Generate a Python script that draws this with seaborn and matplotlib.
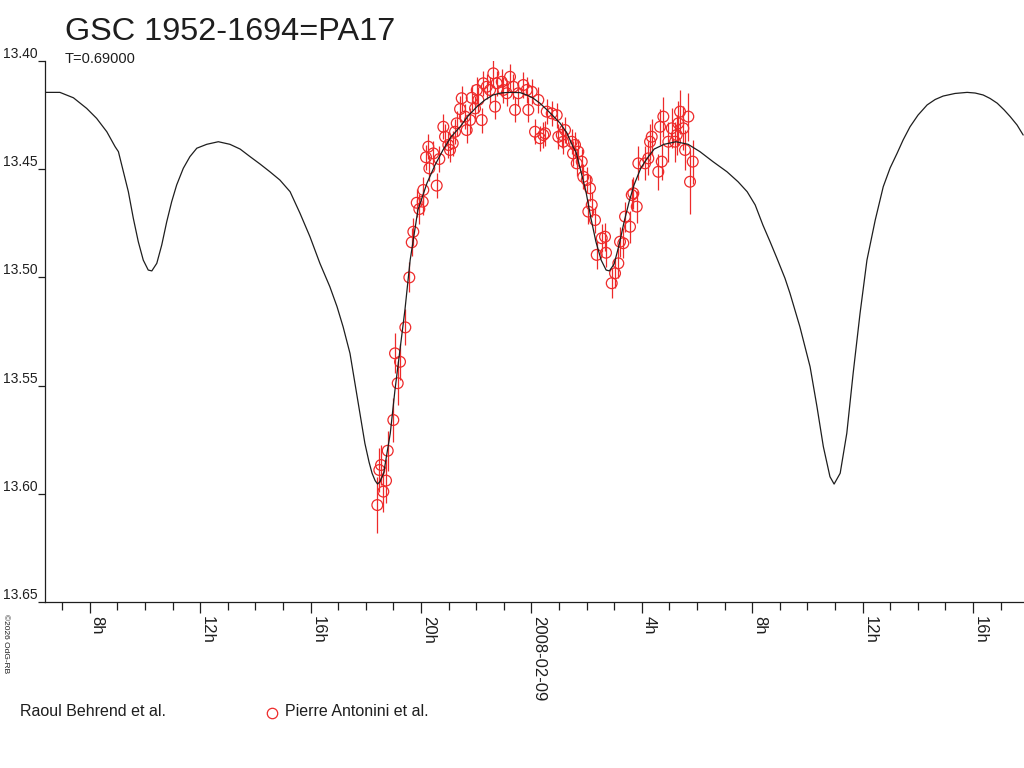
import numpy as np
import pandas as pd
import seaborn as sns
import matplotlib.pyplot as plt
from matplotlib.lines import Line2D
from matplotlib.ticker import MultipleLocator

# hours relative to 2008-02-09 00:00 UT
curve_h = [-17.62, -17.08, -16.59, -16.11, -15.75, -15.38, -15.08, -14.96, -14.78, -14.60,
           -14.42, -14.24, -14.06, -13.88, -13.75, -13.57, -13.39, -13.21, -13.03, -12.85,
           -12.61, -12.37, -12.12, -11.76, -11.34, -10.92, -10.55, -10.19, -9.83, -9.47,
           -9.11, -8.74, -8.38, -8.02, -7.66, -7.30, -7.04, -6.82, -6.57, -6.39,
           -6.21, -6.03, -5.88, -5.77, -5.66, -5.57, -5.48, -5.35, -5.24, -5.11,
           -4.94, -4.76, -4.58, -4.39, -4.11, -3.78, -3.49, -3.20, -2.91, -2.58,
           -2.29, -1.97, -1.68, -1.39, -1.06, -0.77, -0.41, -0.16, 0.06, 0.32,
           0.57, 0.79, 1.04, 1.29, 1.51, 1.62, 1.80, 1.98, 2.16, 2.34,
           2.53, 2.71, 2.83, 3.00, 3.18, 3.36, 3.54, 3.72, 3.97, 4.23,
           4.45, 4.81, 5.24, 5.68, 6.11, 6.58, 7.09, 7.49, 7.82, 8.11,
           8.39, 8.65, 8.90, 9.19, 9.37, 9.73, 10.10, 10.35, 10.58, 10.82,
           10.97, 11.19, 11.43, 11.66, 11.91, 12.16, 12.46, 12.75, 13.00, 13.25,
           13.47, 13.72, 14.01, 14.34, 14.63, 14.92, 15.35, 15.79, 16.08, 16.37,
           16.62, 16.88, 17.13, 17.35, 17.60, 17.82]
curve_mag = [13.4145, 13.4145, 13.4170, 13.4219, 13.4265, 13.4327, 13.4396, 13.4419, 13.4512, 13.4604,
             13.4727, 13.4835, 13.4920, 13.4966, 13.4970, 13.4935, 13.4850, 13.4743, 13.4650, 13.4573,
             13.4496, 13.4442, 13.4403, 13.4385, 13.4373, 13.4385, 13.4407, 13.4442, 13.4476, 13.4512,
             13.4550, 13.4604, 13.4704, 13.4812, 13.4935, 13.5043, 13.5135, 13.5228, 13.5351, 13.5489,
             13.5628, 13.5767, 13.5853, 13.5905, 13.5939, 13.5955, 13.5943, 13.5905, 13.5821, 13.5720,
             13.5520, 13.5335, 13.5151, 13.4920, 13.4689, 13.4564, 13.4481, 13.4411, 13.4351, 13.4304,
             13.4254, 13.4211, 13.4180, 13.4157, 13.4147, 13.4145, 13.4146, 13.4157, 13.4171, 13.4196,
             13.4226, 13.4254, 13.4287, 13.4333, 13.4396, 13.4421, 13.4512, 13.4604, 13.4727, 13.4835,
             13.4920, 13.4966, 13.4970, 13.4938, 13.4850, 13.4744, 13.4652, 13.4573, 13.4494, 13.4444,
             13.4407, 13.4385, 13.4373, 13.4385, 13.4419, 13.4465, 13.4512, 13.4558, 13.4604, 13.4665,
             13.4758, 13.4835, 13.4912, 13.5004, 13.5073, 13.5228, 13.5413, 13.5598, 13.5782, 13.5921,
             13.5955, 13.5905, 13.5720, 13.5443, 13.5166, 13.4920, 13.4735, 13.4581, 13.4494, 13.4427,
             13.4365, 13.4304, 13.4250, 13.4203, 13.4178, 13.4162, 13.4150, 13.4145, 13.4148, 13.4157,
             13.4173, 13.4195, 13.4226, 13.4257, 13.4296, 13.4342]

obs_h = [-5.580, -5.507, -5.446, -5.362, -5.264, -5.203, -5.000, -4.841, -4.938, -4.757,
         -4.565, -4.420, -4.333, -4.275, -4.152, -4.058, -3.935, -3.913, -3.815, -3.732,
         -3.696, -3.551, -3.428, -3.333, -3.188, -3.127, -3.007, -2.946, -2.848, -2.764,
         -2.703, -2.583, -2.522, -2.402, -2.341, -2.221, -2.159, -2.040, -1.978, -1.920,
         -1.797, -1.739, -1.616, -1.496, -1.377, -1.315, -1.254, -1.072, -1.014, -0.891,
         -0.772, -0.652, -0.591, -0.471, -0.290, -0.167, -0.109, 0.014, 0.134, 0.254,
         0.315, 0.435, 0.496, 0.558, 0.739, 0.920, 0.978, 1.101, 1.159, 1.221,
         1.464, 1.510, 1.583, 1.645, 1.703, 1.826, 1.884, 2.007, 2.065, 2.127,
         2.188, 2.308, 2.370, 2.551, 2.670, 2.707, 2.913, 3.033, 3.152, 3.214,
         3.333, 3.395, 3.576, 3.638, 3.696, 3.819, 3.877, 4.120, 4.239, 4.301,
         4.362, 4.601, 4.663, 4.725, 4.783, 4.964, 5.087, 5.207, 5.268, 5.326,
         5.388, 5.507, 5.569, 5.688, 5.750, 5.848]
obs_mag = [13.6052, 13.5890, 13.5867, 13.5990, 13.5939, 13.5801, 13.5659, 13.5489, 13.5351, 13.5390,
           13.5231, 13.5000, 13.4838, 13.4789, 13.4655, 13.4684, 13.4650, 13.4596, 13.4445, 13.4396,
           13.4496, 13.4427, 13.4576, 13.4453, 13.4304, 13.4350, 13.4388, 13.4411, 13.4380, 13.4327,
           13.4288, 13.4222, 13.4172, 13.4257, 13.4319, 13.4273, 13.4170, 13.4219, 13.4134, 13.4180,
           13.4273, 13.4103, 13.4119, 13.4134, 13.4057, 13.4211, 13.4103, 13.4096, 13.4134, 13.4149,
           13.4073, 13.4119, 13.4226, 13.4149, 13.4111, 13.4134, 13.4226, 13.4142, 13.4327, 13.4180,
           13.4357, 13.4342, 13.4334, 13.4234, 13.4242, 13.4250, 13.4350, 13.4342, 13.4373, 13.4319,
           13.4373, 13.4427, 13.4388, 13.4473, 13.4419, 13.4465, 13.4535, 13.4550, 13.4696, 13.4588,
           13.4665, 13.4735, 13.4896, 13.4819, 13.4812, 13.4886, 13.5027, 13.4981, 13.4935, 13.4835,
           13.4842, 13.4719, 13.4766, 13.4619, 13.4611, 13.4673, 13.4473, 13.4473, 13.4450, 13.4373,
           13.4350, 13.4512, 13.4304, 13.4465, 13.4257, 13.4373, 13.4311, 13.4373, 13.4342, 13.4288,
           13.4234, 13.4311, 13.4411, 13.4257, 13.4558, 13.4465]
obs_err = [0.0129, 0.0102, 0.0092, 0.0092, 0.0102, 0.0092, 0.0102, 0.0102, 0.0092, 0.0083,
           0.0083, 0.0069, 0.0065, 0.0065, 0.0065, 0.0069, 0.0060, 0.0060, 0.0058, 0.0058,
           0.0060, 0.0058, 0.0058, 0.0058, 0.0058, 0.0058, 0.0058, 0.0058, 0.0058, 0.0058,
           0.0058, 0.0058, 0.0058, 0.0058, 0.0058, 0.0058, 0.0058, 0.0058, 0.0058, 0.0058,
           0.0058, 0.0058, 0.0058, 0.0058, 0.0062, 0.0058, 0.0058, 0.0058, 0.0058, 0.0058,
           0.0058, 0.0058, 0.0058, 0.0058, 0.0058, 0.0058, 0.0058, 0.0058, 0.0058, 0.0058,
           0.0058, 0.0058, 0.0058, 0.0058, 0.0058, 0.0058, 0.0058, 0.0058, 0.0058, 0.0058,
           0.0058, 0.0058, 0.0058, 0.0058, 0.0058, 0.0058, 0.0058, 0.0058, 0.0058, 0.0058,
           0.0058, 0.0060, 0.0065, 0.0065, 0.0065, 0.0065, 0.0069, 0.0069, 0.0069, 0.0069,
           0.0069, 0.0069, 0.0074, 0.0074, 0.0074, 0.0074, 0.0079, 0.0079, 0.0079, 0.0083,
           0.0083, 0.0083, 0.0083, 0.0083, 0.0092, 0.0092, 0.0092, 0.0092, 0.0092, 0.0102,
           0.0102, 0.0102, 0.0092, 0.0111, 0.0148, 0.0102]

tick_hours = [-16, -12, -8, -4, 0, 4, 8, 12, 16]
tick_labels = ['8h', '12h', '16h', '20h', '2008-02-09', '4h', '8h', '12h', '16h']
y_ticks = [13.40, 13.45, 13.50, 13.55, 13.60, 13.65]

RED = '#ee2a2a'
INK = '#1e1e1e'

sns.set_style('white')
plt.rcParams['font.family'] = ['Liberation Sans', 'DejaVu Sans']

fig = plt.figure(figsize=(10.24, 7.68), dpi=100)
ax = fig.add_axes([45 / 1024, 1 - 602 / 768, 979 / 1024, 541 / 768])

model = pd.DataFrame({'h': curve_h, 'mag': curve_mag})
obs = pd.DataFrame({'h': obs_h, 'mag': obs_mag, 'err': obs_err})

ax.errorbar(obs['h'], obs['mag'], yerr=obs['err'], fmt='none',
            ecolor=RED, elinewidth=0.9, capsize=0, zorder=2)
sns.scatterplot(data=obs, x='h', y='mag', ax=ax, marker='o', s=60,
                facecolor='none', edgecolor=RED, linewidth=0.9, zorder=3)
sns.lineplot(data=model, x='h', y='mag', ax=ax, sort=False, estimator=None,
             color=INK, linewidth=0.9, zorder=4)

ax.set_xlim(-17.62, 17.85)
ax.set_ylim(13.65, 13.40)
ax.set_xlabel('')
ax.set_ylabel('')

for side in ['top', 'right']:
    ax.spines[side].set_visible(False)
for side in ['left', 'bottom']:
    ax.spines[side].set_color(INK)
    ax.spines[side].set_linewidth(0.9)

ax.set_xticks(tick_hours, tick_labels, rotation=-90, rotation_mode='anchor',
              ha='left', va='bottom', fontsize=12, color=INK)
ax.xaxis.set_minor_locator(MultipleLocator(1))
ax.tick_params(axis='x', which='major', direction='out', length=8, width=0.9,
               color=INK, pad=2, bottom=True)
ax.tick_params(axis='x', which='minor', direction='out', length=6, width=0.9,
               color=INK, bottom=True)

ax.set_yticks(y_ticks, [f'{v:.2f}' for v in y_ticks], fontsize=10, color=INK)
ax.tick_params(axis='y', direction='out', length=5, width=0.9, color=INK, pad=0.5, left=True)
for lab in ax.get_yticklabels():
    lab.set_va('bottom')

fig.text(65 / 1024, 1 - 40 / 768, 'GSC 1952-1694=PA17', fontsize=23.3,
         color=INK, va='baseline', ha='left')
fig.text(65 / 1024, 1 - 63 / 768, 'T=0.69000', fontsize=10.5,
         color=INK, va='baseline', ha='left')
fig.text(2 / 1024, 1 - 614 / 768, '\u00a92026 OdG-RB', fontsize=6, rotation=-90,
         color=INK, va='top', ha='left')

fig.text(20 / 1024, 1 - 712 / 768, 'Raoul Behrend et al.', fontsize=11.5,
         color=INK, va='center', ha='left')
fig.add_artist(Line2D([272 / 1024], [1 - 713 / 768], marker='o', markersize=7.5,
                      markerfacecolor='none', markeredgecolor=RED, markeredgewidth=0.9,
                      transform=fig.transFigure))
fig.text(285 / 1024, 1 - 712 / 768, 'Pierre Antonini et al.', fontsize=11.5,
         color=INK, va='center', ha='left')

fig.savefig('out.png', dpi=100)
